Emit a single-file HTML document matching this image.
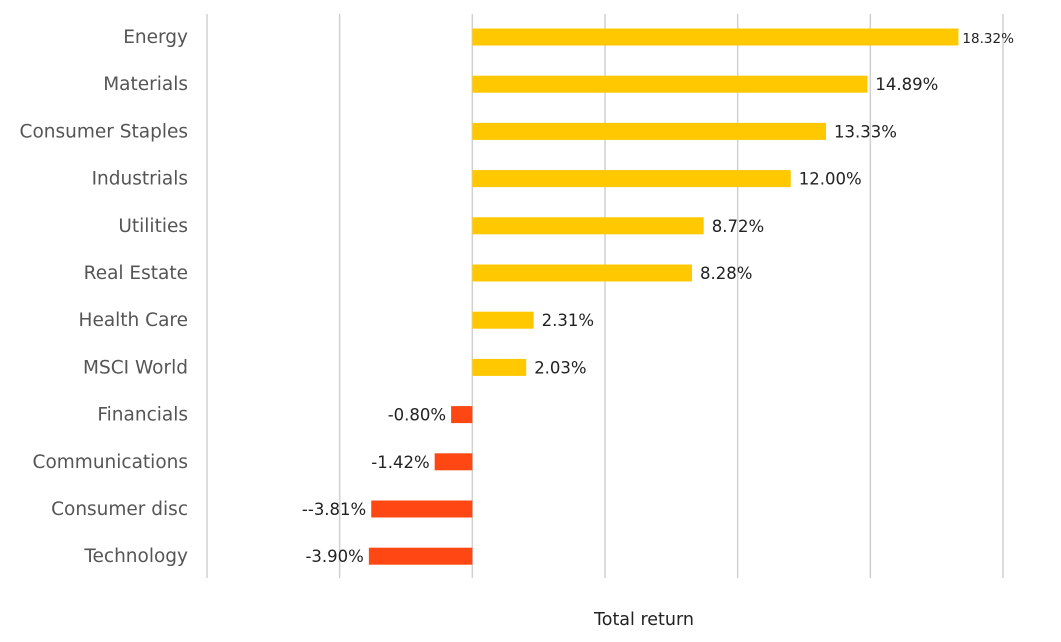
<!DOCTYPE html>
<html><head><meta charset="utf-8"><style>
body{margin:0;background:#fff;}
svg{display:block;font-family:"DejaVu Sans","Liberation Sans",sans-serif;}
</style></head><body>
<svg id="chart" width="1061" height="642"></svg>
<script>
const categories=["Energy","Materials","Consumer Staples","Industrials","Utilities","Real Estate","Health Care","MSCI World","Financials","Communications","Consumer disc","Technology"];
const values=[18.32,14.89,13.33,12.00,8.72,8.28,2.31,2.03,-0.80,-1.42,-3.81,-3.90];
const valueLabels=["18.32%","14.89%","13.33%","12.00%","8.72%","8.28%","2.31%","2.03%","-0.80%","-1.42%","--3.81%","-3.90%"];
const ticks=[-10,-5,0,5,10,15,20];
const NS="http://www.w3.org/2000/svg";
const svg=document.getElementById('chart');
const x=v=>207+(v+10)*(1003-207)/30;
const y=i=>37+i*47.2;
function mk(t,a){const e=document.createElementNS(NS,t);for(const k in a)e.setAttribute(k,a[k]);svg.appendChild(e);return e;}
ticks.forEach(t=>{const l=mk('line',{x1:x(t),x2:x(t),y1:14,y2:578,stroke:'#d0d0d0','stroke-width':1.5});

});
categories.forEach((c,i)=>{
 const v=values[i];
 const r=mk('rect',{x:Math.min(x(0),x(v)),y:y(i)-8.5,width:Math.abs(x(v)-x(0)),height:17,fill:v>=0?'#FFC800':'#FF4713'});
 
 
 const t=mk('text',{x:188,y:y(i)+6,'text-anchor':'end','font-size':18.5,fill:'#555'});t.textContent=c;
 
 
 const vl=mk('text',{x:v>=0?x(v)+(i===0?4:8):x(v)-5,y:y(i)+6,'text-anchor':v>=0?'start':'end','font-size':i===0?13.5:16.5,fill:'#222'});vl.textContent=valueLabels[i];
 
 
});
const at=mk('text',{x:644,y:625,'text-anchor':'middle','font-size':17.5,fill:'#222'});at.textContent='Total return';


</script>
</body></html>
